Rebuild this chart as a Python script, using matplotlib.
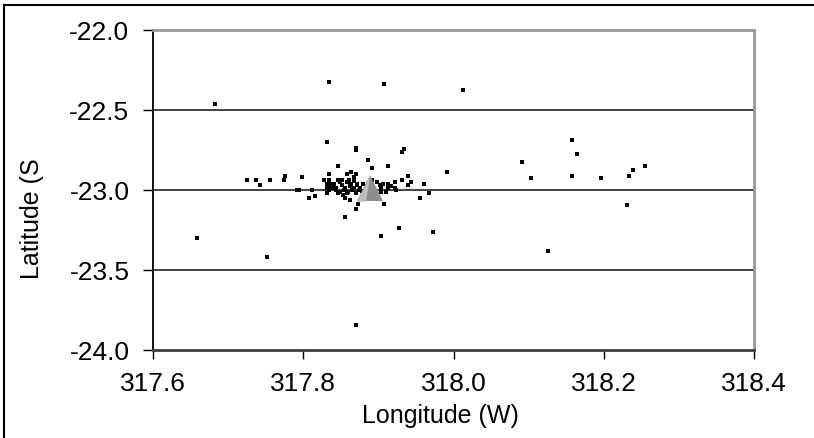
import matplotlib
matplotlib.use("Agg")
import matplotlib.pyplot as plt
from matplotlib.patches import Rectangle
from matplotlib.path import Path

plt.rcParams['font.family'] = ['Liberation Sans', 'DejaVu Sans']

lon = [317.683, 317.834, 317.907, 318.012, 317.831, 317.870, 317.870, 317.886,
       317.934, 317.931, 317.846, 317.892, 317.913, 317.992, 317.725, 317.737,
       317.743, 317.756, 317.774, 317.776, 317.798, 317.792, 317.795, 317.812,
       317.807, 317.816, 317.831, 317.855, 317.862, 317.873, 317.870, 317.855,
       317.907, 317.955, 317.967, 317.961, 317.940, 317.943, 317.940, 317.931,
       317.922, 317.922, 317.924, 317.913, 317.913, 317.910, 317.904, 317.898,
       317.928, 317.904, 317.973, 317.659, 317.752, 317.870, 317.834, 317.858,
       317.864, 317.870, 317.867,
       317.828, 317.834, 317.831, 317.836, 317.841, 317.846, 317.849, 317.852,
       317.858, 317.864, 317.867, 317.871, 317.874, 317.843, 317.849, 317.854,
       317.860, 317.870, 317.846, 317.834, 317.831, 317.838, 317.858, 317.865,
       317.872, 317.892, 317.902, 317.903,
       317.839, 317.844, 317.851, 317.856, 317.862, 317.868, 317.876, 317.880,
       317.835, 317.853, 317.861, 317.878, 317.906, 317.917,
       318.158, 318.164, 318.091, 318.103, 318.158, 318.197, 318.234, 318.239,
       318.255, 318.231, 318.126]
lat = [-22.460, -22.325, -22.340, -22.375, -22.700, -22.740, -22.750, -22.810,
       -22.746, -22.760, -22.850, -22.860, -22.850, -22.885, -22.936, -22.936,
       -22.970, -22.936, -22.936, -22.910, -22.920, -22.998, -22.998, -22.998,
       -23.048, -23.035, -23.020, -23.048, -23.060, -23.085, -23.120, -23.170,
       -23.085, -23.048, -23.020, -22.960, -22.910, -22.950, -22.970, -22.936,
       -22.950, -22.986, -22.998, -22.960, -22.986, -23.010, -22.986, -22.950,
       -23.235, -23.285, -23.260, -23.300, -23.420, -23.844, -22.900, -22.900,
       -22.885, -22.900, -22.920,
       -22.936, -22.936, -22.960, -22.960, -22.960, -22.936, -22.950, -22.970,
       -22.950, -22.960, -22.986, -22.970, -22.998, -22.998, -23.010, -22.998,
       -23.010, -23.020, -23.020, -22.998, -22.986, -22.986, -23.020, -22.998,
       -22.960, -22.936, -22.970, -23.010,
       -22.975, -22.985, -22.940, -22.985, -22.975, -22.945, -22.985, -22.960,
       -22.975, -23.030, -22.940, -23.005, -22.965, -22.975,
       -22.686, -22.773, -22.823, -22.923, -22.910, -22.923, -22.910, -22.873,
       -22.848, -23.096, -23.381]

site_lon = [317.889]
site_lat = [-22.99]

x_ticks = [317.6, 317.8, 318.0, 318.2, 318.4]
y_ticks = [-24.0, -23.5, -23.0, -22.5, -22.0]

W, H = 814, 438
fig = plt.figure(figsize=(W / 100, H / 100), dpi=100)
ax = fig.add_axes([153 / W, 1 - 350 / H, (754 - 153) / W, (350 - 30) / H])

for y in [-22.5, -23.0, -23.5]:
    ax.axhline(y, color='#333333', lw=1.3, zorder=1)

ax.scatter(lon, lat, marker='s', s=12, color='black', linewidths=0, zorder=3)

# pyramid-like triangle: dark body plus lighter left face
ax.plot(site_lon, site_lat, marker='^', markersize=19, color='#8e8e8e',
        markeredgewidth=0, linestyle='none', zorder=4)
left_face = Path([(0, 1), (-1, -1), (-0.35, -1), (0, 1)])
ax.plot(site_lon, site_lat, marker=left_face, markersize=19, color='#bdbdbd',
        markeredgewidth=0, linestyle='none', zorder=5)

ax.set_xlim(317.6, 318.4)
ax.set_ylim(-24.0, -22.0)
ax.set_xticks(x_ticks)
ax.set_xticklabels([f"{v:.1f}" for v in x_ticks])
ax.set_yticks(y_ticks)
ax.set_yticklabels([f"{v:.1f}" for v in y_ticks])

ax.tick_params(axis='y', direction='out', length=7, width=1.0, pad=10,
               labelsize=19, colors='black')
ax.tick_params(axis='x', direction='out', length=6.5, width=1.0, pad=9,
               labelsize=19, colors='black')

ax.spines['left'].set_color('black')
ax.spines['left'].set_linewidth(1.3)
ax.spines['bottom'].set_color('#404040')
ax.spines['bottom'].set_linewidth(2.0)
ax.spines['top'].set_color('#999999')
ax.spines['top'].set_linewidth(2.0)
ax.spines['right'].set_color('#999999')
ax.spines['right'].set_linewidth(2.0)

fig.text(440 / W, 1 - 423 / H, "Longitude (W)", ha='center', va='baseline',
         fontsize=18)
fig.text(32 / W, 1 - 219 / H, "Latitude (S", ha='center', va='center',
         rotation=90, fontsize=18)

fig.patches.append(Rectangle((4 / W, -0.1), 1.2, (1 - 5 / H) + 0.1,
                             transform=fig.transFigure, fill=False,
                             edgecolor='black', lw=1.5))

fig.savefig("out.png", dpi=100)
